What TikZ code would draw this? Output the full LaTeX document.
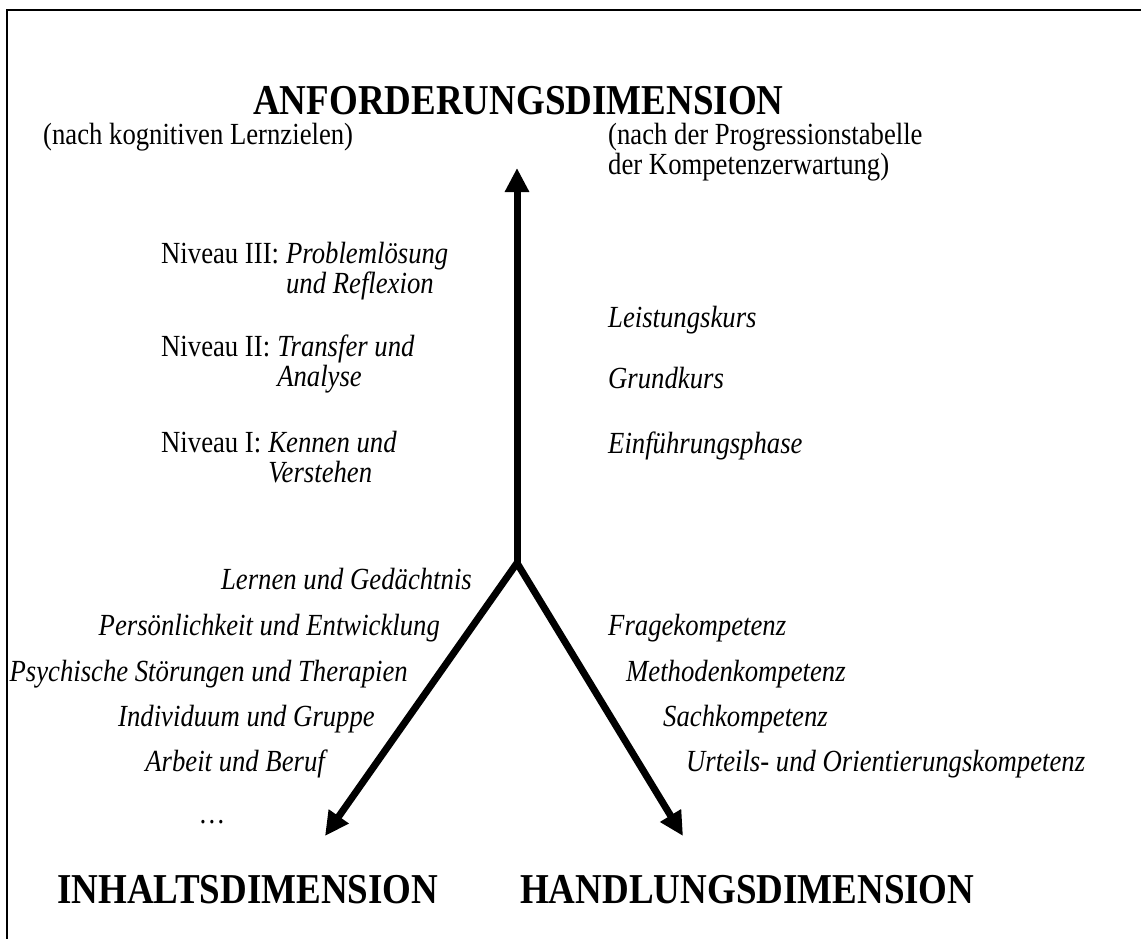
\documentclass[tikz,border=0pt]{standalone}
\usepackage{fontspec}
\usepackage{graphicx}
\setmainfont{Liberation Serif}
\usetikzlibrary{arrows.meta}
\newcommand{\vstr}[1]{\scalebox{1}[1.15]{#1}}
\begin{document}
\begin{tikzpicture}[x=1pt,y=-1pt,
  txt/.style={inner sep=0pt,font=\fontsize{26.7}{30}\selectfont},
  itx/.style={inner sep=0pt,font=\fontsize{26.7}{30}\selectfont\itshape},
  ttl/.style={inner sep=0pt,text depth=0pt,font=\fontsize{37}{40}\selectfont\bfseries},
  axis/.style={line width=7pt,-{Triangle[length=24pt,width=23pt]}},
  fork/.style={line width=7pt,line join=miter,{Triangle[length=24pt,width=23pt]}-{Triangle[length=24pt,width=23pt]}},
  framebox/.style={line width=2.5pt}]
\useasboundingbox (0,0) rectangle (1141,939);
% frame (open to the right and bottom)
\coordinate (fbl) at (7,945);
\coordinate (ftl) at (7,10);
\coordinate (ftr) at (1145,10);
\draw[framebox] (fbl) -- (ftl) -- (ftr);
% titles
\node[ttl,anchor=base west] (anf) at (253,115) {\vstr{ANFORDERUNGSDIMENSION}};
\node[txt,anchor=base west] (kog) at (43,145) {\vstr{(nach kognitiven Lernzielen)}};
\node[txt,anchor=base west] (prog1) at (608,145) {\vstr{(nach der Progressionstabelle}};
\node[txt,anchor=base west] (prog2) at (608,175) {\vstr{der Kompetenzerwartung)}};
\node[ttl,anchor=base west] (inh) at (57,903) {\vstr{INHALTSDIMENSION}};
\node[ttl,anchor=base west] (hand) at (520,903) {\vstr{HANDLUNGSDIMENSION}};
% axes
\coordinate (j) at (517,563);
\coordinate (top) at (517,168);
\coordinate (tl) at (325,836);
\coordinate (tr) at (683,836);
\draw[axis] (j) -- (top);
\draw[fork] (tl) -- (j) -- (tr);
% levels
\node[txt,anchor=base west] (n3l) at (161,263) {\vstr{Niveau III:\ }};
\node[itx,anchor=base west] (n3a) at (n3l.base east) {\vstr{Problemlösung}};
\node[itx,anchor=base west] (n3b) at ([yshift=-30pt]n3a.base west) {\vstr{und Reflexion}};
\node[txt,anchor=base west] (n2l) at (161,356) {\vstr{Niveau II:\ }};
\node[itx,anchor=base west] (n2a) at (n2l.base east) {\vstr{Transfer und}};
\node[itx,anchor=base west] (n2b) at ([yshift=-30pt]n2a.base west) {\vstr{Analyse}};
\node[txt,anchor=base west] (n1l) at (161,452) {\vstr{Niveau I:\ }};
\node[itx,anchor=base west] (n1a) at (n1l.base east) {\vstr{Kennen und}};
\node[itx,anchor=base west] (n1b) at ([yshift=-30pt]n1a.base west) {\vstr{Verstehen}};
% courses
\node[itx,anchor=base west] (lk) at (608,327) {\vstr{Leistungskurs}};
\node[itx,anchor=base west] (gk) at (608,388) {\vstr{Grundkurs}};
\node[itx,anchor=base west] (ef) at (608,453) {\vstr{Einführungsphase}};
% content topics
\node[itx,anchor=base east] (c1) at (472,589) {\vstr{Lernen und Gedächtnis}};
\node[itx,anchor=base east] (c2) at (440,635) {\vstr{Persönlichkeit und Entwicklung}};
\node[itx,anchor=base east] (c3) at (408,681) {\vstr{Psychische Störungen und Therapien}};
\node[itx,anchor=base east] (c4) at (375,726) {\vstr{Individuum und Gruppe}};
\node[itx,anchor=base east] (c5) at (325,771) {\vstr{Arbeit und Beruf}};
\node[txt,anchor=base] (c6) at (212,823) {\vstr{\dots}};
% competences
\node[itx,anchor=base west] (k1) at (608,635) {\vstr{Fragekompetenz}};
\node[itx,anchor=base west] (k2) at (626,681) {\vstr{Methodenkompetenz}};
\node[itx,anchor=base west] (k3) at (663,726) {\vstr{Sachkompetenz}};
\node[itx,anchor=base west] (k4) at (686,771) {\vstr{Urteils- und Orientierungskompetenz}};
\end{tikzpicture}
\end{document}
